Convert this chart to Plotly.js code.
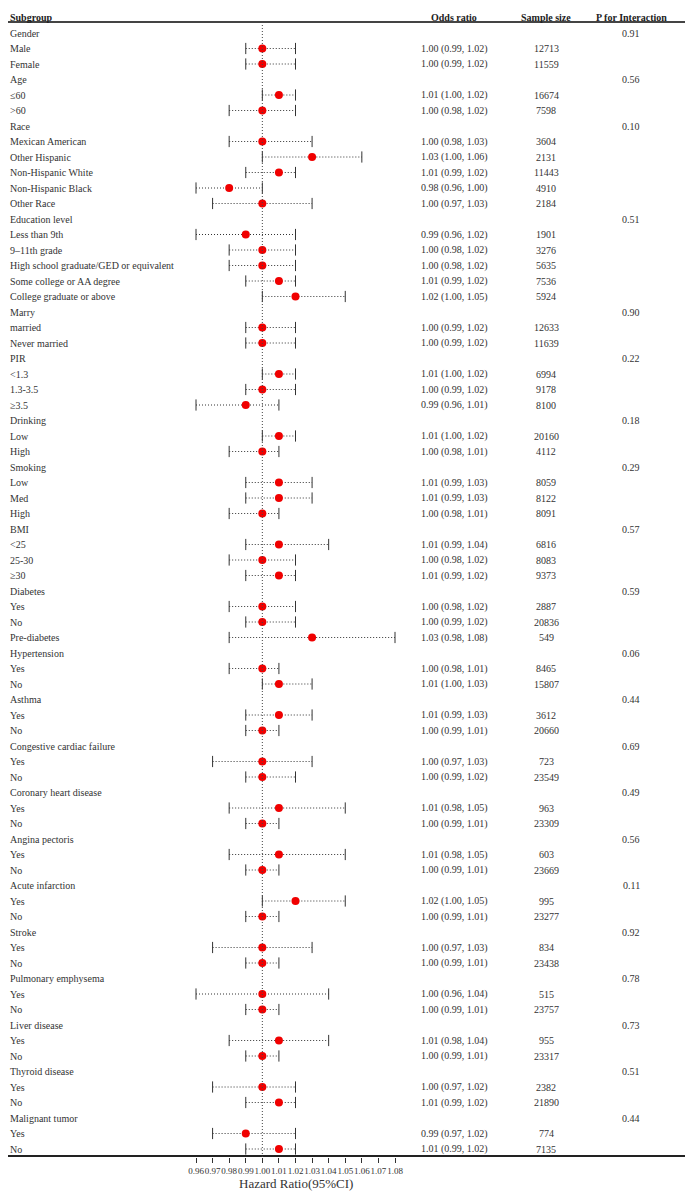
<!DOCTYPE html>
<html>
<head>
<meta charset="utf-8">
<script src="https://cdn.plot.ly/plotly-3.0.1.min.js"></script>
<style>html,body{margin:0;padding:0;background:#fff;}#chart{width:685px;height:1197px;}</style>
</head>
<body>
<div id="chart"></div>
<script>
// ---- data ----
const subgroups = ["Gender","Male","Female","Age","≤60",">60","Race","Mexican American","Other Hispanic","Non-Hispanic White","Non-Hispanic Black","Other Race","Education level","Less than 9th","9–11th grade","High school graduate/GED or equivalent","Some college or AA degree","College graduate or above","Marry","married","Never married","PIR","<1.3","1.3-3.5","≥3.5","Drinking","Low","High","Smoking","Low","Med","High","BMI","<25","25-30","≥30","Diabetes","Yes","No","Pre-diabetes","Hypertension","Yes","No","Asthma","Yes","No","Congestive cardiac failure","Yes","No","Coronary heart disease","Yes","No","Angina pectoris","Yes","No","Acute infarction","Yes","No","Stroke","Yes","No","Pulmonary emphysema","Yes","No","Liver disease","Yes","No","Thyroid disease","Yes","No","Malignant tumor","Yes","No"];
const oddsRatio = [null,1.00,1.00,null,1.01,1.00,null,1.00,1.03,1.01,0.98,1.00,null,0.99,1.00,1.00,1.01,1.02,null,1.00,1.00,null,1.01,1.00,0.99,null,1.01,1.00,null,1.01,1.01,1.00,null,1.01,1.00,1.01,null,1.00,1.00,1.03,null,1.00,1.01,null,1.01,1.00,null,1.00,1.00,null,1.01,1.00,null,1.01,1.00,null,1.02,1.00,null,1.00,1.00,null,1.00,1.00,null,1.01,1.00,null,1.00,1.01,null,0.99,1.01];
const lowerCI = [null,0.99,0.99,null,1.00,0.98,null,0.98,1.00,0.99,0.96,0.97,null,0.96,0.98,0.98,0.99,1.00,null,0.99,0.99,null,1.00,0.99,0.96,null,1.00,0.98,null,0.99,0.99,0.98,null,0.99,0.98,0.99,null,0.98,0.99,0.98,null,0.98,1.00,null,0.99,0.99,null,0.97,0.99,null,0.98,0.99,null,0.98,0.99,null,1.00,0.99,null,0.97,0.99,null,0.96,0.99,null,0.98,0.99,null,0.97,0.99,null,0.97,0.99];
const upperCI = [null,1.02,1.02,null,1.02,1.02,null,1.03,1.06,1.02,1.00,1.03,null,1.02,1.02,1.02,1.02,1.05,null,1.02,1.02,null,1.02,1.02,1.01,null,1.02,1.01,null,1.03,1.03,1.01,null,1.04,1.02,1.02,null,1.02,1.02,1.08,null,1.01,1.03,null,1.03,1.01,null,1.03,1.02,null,1.05,1.01,null,1.05,1.01,null,1.05,1.01,null,1.03,1.01,null,1.04,1.01,null,1.04,1.01,null,1.02,1.02,null,1.02,1.02];
const sampleSize = [null,12713,11559,null,16674,7598,null,3604,2131,11443,4910,2184,null,1901,3276,5635,7536,5924,null,12633,11639,null,6994,9178,8100,null,20160,4112,null,8059,8122,8091,null,6816,8083,9373,null,2887,20836,549,null,8465,15807,null,3612,20660,null,723,23549,null,963,23309,null,603,23669,null,995,23277,null,834,23438,null,515,23757,null,955,23317,null,2382,21890,null,774,7135];
const pInteraction = ["0.91",null,null,"0.56",null,null,"0.10",null,null,null,null,null,"0.51",null,null,null,null,null,"0.90",null,null,"0.22",null,null,null,"0.18",null,null,"0.29",null,null,null,"0.57",null,null,null,"0.59",null,null,null,"0.06",null,null,"0.44",null,null,"0.69",null,null,"0.49",null,null,"0.56",null,null,"0.11",null,null,"0.92",null,null,"0.78",null,null,"0.73",null,null,"0.51",null,null,"0.44",null,null];
const headers = ["Subgroup","Odds ratio","Sample size","P for Interaction"];
const tickValues = [0.96,0.97,0.98,0.99,1.00,1.01,1.02,1.03,1.04,1.05,1.06,1.07,1.08];
const axisTitle = "Hazard Ratio(95%CI)";

// ---- build ----
const W = 685, H = 1197;
const rows = subgroups.map((_, i) => i);
const ciX = [], ciY = [], capX = [], capY = [], ptX = [], ptY = [];
rows.forEach(i => {
  if (oddsRatio[i] === null) return;
  ciX.push(lowerCI[i], upperCI[i], null); ciY.push(i, i, null);
  capX.push(lowerCI[i], upperCI[i]); capY.push(i, i);
  ptX.push(oddsRatio[i]); ptY.push(i);
});
const fmt = v => v.toFixed(2);
const SERIF = "Liberation Serif, Times New Roman, serif";
const font = {family: SERIF, size: 10, color: "#333"};
const bold = {family: SERIF, size: 10, color: "#222", weight: 700};
const colX = {label: 8/W, or: 454/W, n: 546/W, p: 631/W};

const annotations = [];
rows.forEach(i => {
  annotations.push({xref:"paper", yref:"y", x: colX.label, y: i, text: subgroups[i], showarrow:false, xanchor:"left", yanchor:"middle", font});
  if (oddsRatio[i] !== null) {
    annotations.push({xref:"paper", yref:"y", x: colX.or, y: i, text: `${fmt(oddsRatio[i])} (${fmt(lowerCI[i])}, ${fmt(upperCI[i])})`, showarrow:false, xanchor:"center", yanchor:"middle", font});
    annotations.push({xref:"paper", yref:"y", x: colX.n, y: i, text: String(sampleSize[i]), showarrow:false, xanchor:"center", yanchor:"middle", font});
  }
  if (pInteraction[i] !== null) {
    annotations.push({xref:"paper", yref:"y", x: colX.p, y: i, text: pInteraction[i], showarrow:false, xanchor:"center", yanchor:"middle", font});
  }
});
const headerY = -1.03;
[[colX.label,"left"],[colX.or,"center"],[colX.n,"center"],[colX.p,"center"]].forEach((c, k) => {
  annotations.push({xref:"paper", yref:"y", x: c[0], y: headerY, text: "<b>"+headers[k]+"</b>", showarrow:false, xanchor:c[1], yanchor:"middle", font: bold});
});
const tMin = tickValues[0], tMax = tickValues[tickValues.length - 1];
annotations.push({xref:"x", yref:"paper", x: (tMin + tMax) / 2, y: 1 - 1183/H, text: axisTitle, showarrow:false, xanchor:"center", yanchor:"middle", font: {family: SERIF, size: 13, color: "#333"}});

const pxPerRow = 15.5, firstRowPx = 33, axisPx = 1157;
const yTop = -firstRowPx / pxPerRow;
const yBottom = yTop + axisPx / pxPerRow;
const domainBottom = 1 - axisPx / H;
const refTopY = yTop + 25 / pxPerRow;

const pxL = 196, pxR = 395, lineL = 8;
const perPx = (tMax - tMin) / (pxR - pxL);
const xRange = [tMin - (pxL - lineL) * perPx, tMax + (W - pxR) * perPx];

const traces = [
  {x: ciX, y: ciY, mode: "lines", line: {color: "#333", width: 1, dash: "1px,2px"}, hoverinfo: "skip", showlegend: false, cliponaxis: false},
  {x: capX, y: capY, mode: "markers", marker: {symbol: "line-ns", size: 8, line: {color: "#333", width: 1}}, hoverinfo: "skip", showlegend: false, cliponaxis: false},
  {x: ptX, y: ptY, mode: "markers", marker: {symbol: "circle", size: 8, color: "#f00000"}, showlegend: false, cliponaxis: false},
  {x: [null], y: [null], xaxis: "x3", yaxis: "y2", mode: "markers", hoverinfo: "skip", showlegend: false},
  {x: [null], y: [null], xaxis: "x4", yaxis: "y3", mode: "markers", hoverinfo: "skip", showlegend: false}
];

const ruleAxis = {showgrid: false, zeroline: false, showticklabels: false, ticks: "", range: [0, 1], fixedrange: true};
const layout = {
  width: W, height: H,
  margin: {l: 0, r: 0, t: 0, b: 0},
  paper_bgcolor: "#fff", plot_bgcolor: "rgba(0,0,0,0)",
  showlegend: false,
  xaxis: {
    domain: [lineL/W, 1], range: xRange, anchor: "y",
    tickvals: tickValues, ticktext: tickValues.map(fmt), tickangle: 0,
    ticks: "outside", ticklen: 5, tickwidth: 1, tickcolor: "#333",
    tickfont: {family: SERIF, size: 9, color: "#333"},
    showgrid: false, zeroline: false, showline: false,
    fixedrange: true
  },
  yaxis: {
    domain: [domainBottom, 1], range: [yBottom, yTop], anchor: "x",
    showgrid: false, zeroline: false, showline: false, showticklabels: false, ticks: "",
    fixedrange: true
  },
  // full-width header rule
  yaxis2: Object.assign({}, ruleAxis, {domain: [domainBottom, 1 - 23.3/H], anchor: "x3", showline: false}),
  xaxis3: Object.assign({}, ruleAxis, {domain: [lineL/W, 1], anchor: "y2", side: "top", showline: true, linecolor: "#444", linewidth: 2}),
  // full-width bottom rule
  yaxis3: Object.assign({}, ruleAxis, {domain: [0, domainBottom], anchor: "x4", showline: false}),
  xaxis4: Object.assign({}, ruleAxis, {domain: [lineL/W, 1], anchor: "y3", side: "top", showline: true, linecolor: "#222", linewidth: 2}),
  shapes: [
    {type: "line", xref: "x", yref: "y", x0: 1.00, x1: 1.00, y0: yBottom, y1: refTopY, line: {color: "#444", width: 1, dash: "1px,2px"}}
  ],
  annotations
};
Plotly.newPlot("chart", traces, layout, {displayModeBar: false, staticPlot: true});
</script>
</body>
</html>
